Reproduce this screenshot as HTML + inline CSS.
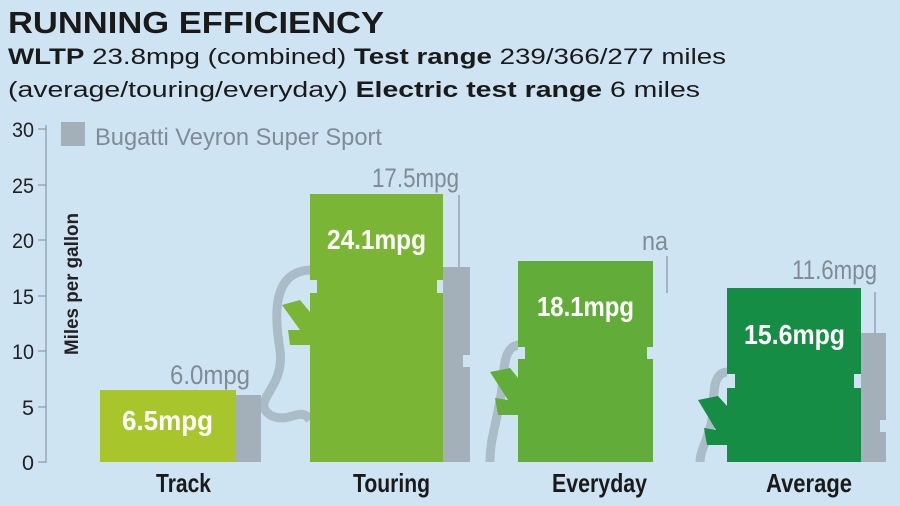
<!DOCTYPE html>
<html><head><meta charset="utf-8"><style>
body{margin:0;background:#cfe4f2;}
.w{width:900px;height:506px;position:relative;overflow:hidden;background:#cfe4f2;font-family:"Liberation Sans",sans-serif;}
</style></head><body><div class="w">
<svg width="900" height="506" xmlns="http://www.w3.org/2000/svg" font-family="Liberation Sans, sans-serif">
<text x="8" y="33" font-size="31" font-weight="bold" fill="#1a1a1a" textLength="376" lengthAdjust="spacingAndGlyphs">RUNNING EFFICIENCY</text>
<text x="8" y="64" font-size="22" fill="#1a1a1a" textLength="718" lengthAdjust="spacingAndGlyphs"><tspan font-weight="bold">WLTP</tspan> 23.8mpg (combined) <tspan font-weight="bold">Test range</tspan> 239/366/277 miles</text>
<text x="8" y="97" font-size="22" fill="#1a1a1a" textLength="692" lengthAdjust="spacingAndGlyphs">(average/touring/everyday) <tspan font-weight="bold">Electric test range</tspan> 6 miles</text>
<!-- axis -->
<line x1="46" y1="125" x2="46" y2="463" stroke="#8a9aa6" stroke-width="1.2"/>
<g stroke="#8a9aa6" stroke-width="1.2">
<line x1="38" y1="462" x2="46" y2="462"/><line x1="38" y1="407" x2="46" y2="407"/><line x1="38" y1="351" x2="46" y2="351"/><line x1="38" y1="296" x2="46" y2="296"/><line x1="38" y1="240" x2="46" y2="240"/><line x1="38" y1="185" x2="46" y2="185"/><line x1="38" y1="129" x2="46" y2="129"/>
</g>
<g font-size="21" fill="#222" text-anchor="end">
<text x="34" y="470" textLength="12" lengthAdjust="spacingAndGlyphs">0</text>
<text x="34" y="415" textLength="12" lengthAdjust="spacingAndGlyphs">5</text>
<text x="34" y="359" textLength="22" lengthAdjust="spacingAndGlyphs">10</text>
<text x="34" y="304" textLength="22" lengthAdjust="spacingAndGlyphs">15</text>
<text x="34" y="248" textLength="22" lengthAdjust="spacingAndGlyphs">20</text>
<text x="34" y="193" textLength="22" lengthAdjust="spacingAndGlyphs">25</text>
<text x="34" y="137" textLength="22" lengthAdjust="spacingAndGlyphs">30</text>
</g>
<text transform="translate(78,355) rotate(-90)" font-size="19" font-weight="bold" fill="#222" textLength="142" lengthAdjust="spacingAndGlyphs">Miles per gallon</text>
<!-- legend -->
<rect x="61" y="122" width="24" height="24" fill="#a3b0ba"/>
<text x="95" y="145" font-size="24" fill="#7f8c96" textLength="287" lengthAdjust="spacingAndGlyphs">Bugatti Veyron Super Sport</text>
<!-- pump hoses -->
<g fill="none" stroke="#a9bcc8" stroke-width="9">
<path d="M312 270 C270 270 275 320 280 350 C285 390 250 400 270 415 C290 425 300 405 310 420"/>
<path d="M520 345 C500 345 505 380 500 400 C495 430 490 440 490 462"/>
<path d="M728 372 C710 372 715 400 712 420 C708 440 700 450 700 462"/>
</g>
<g fill="#7ab535"><path d="M282 305 L300 300 L310 312 L310 345 L290 345 L288 330 L300 330 Z"/></g>
<g fill="#62ad3a"><path d="M490 372 L510 368 L518 378 L518 415 L498 415 L495 398 L508 400 Z"/></g>
<g fill="#168d44"><path d="M698 400 L718 396 L727 406 L727 445 L707 445 L704 428 L716 430 Z"/></g>
<!-- bars -->
<rect x="100" y="390" width="136" height="72" fill="#a8c62c"/>
<rect x="236" y="395" width="25" height="67" fill="#a3b0ba"/>
<rect x="443" y="267" width="27" height="195" fill="#a3b0ba"/>
<rect x="861" y="333" width="25" height="129" fill="#a3b0ba"/>
<rect x="310" y="194" width="133" height="268" fill="#7ab535"/>
<rect x="518" y="261" width="135" height="201" fill="#62ad3a"/>
<rect x="727" y="288" width="134" height="174" fill="#168d44"/>
<!-- notches -->
<g fill="#cfe4f2">
<rect x="310" y="280" width="7" height="13"/><rect x="437" y="280" width="6" height="13"/>
<rect x="518" y="347" width="7" height="12"/><rect x="647" y="347" width="6" height="12"/>
<rect x="727" y="374" width="8" height="14"/><rect x="854" y="374" width="7" height="14"/>
<rect x="463" y="355" width="8" height="12"/><rect x="880" y="420" width="7" height="12"/>
</g>
<!-- leader lines -->
<g stroke="#8a9aa6" stroke-width="1.3">
<line x1="459" y1="195" x2="459" y2="267"/><line x1="667" y1="256" x2="667" y2="293"/><line x1="875" y1="292" x2="875" y2="333"/>
</g>
<!-- value labels -->
<g font-size="27" fill="#7f8c96">
<text x="170" y="384" textLength="80" lengthAdjust="spacingAndGlyphs">6.0mpg</text>
<text x="372" y="187" textLength="87" lengthAdjust="spacingAndGlyphs">17.5mpg</text>
<text x="642" y="250" textLength="26" lengthAdjust="spacingAndGlyphs">na</text>
<text x="792" y="279" textLength="85" lengthAdjust="spacingAndGlyphs">11.6mpg</text>
</g>
<g font-size="28" font-weight="bold" fill="#fff">
<text x="122" y="430" textLength="91" lengthAdjust="spacingAndGlyphs">6.5mpg</text>
<text x="327" y="249" textLength="99" lengthAdjust="spacingAndGlyphs">24.1mpg</text>
<text x="537" y="316" textLength="97" lengthAdjust="spacingAndGlyphs">18.1mpg</text>
<text x="744" y="344" textLength="101" lengthAdjust="spacingAndGlyphs">15.6mpg</text>
</g>
<g font-size="26" font-weight="bold" fill="#1a1a1a">
<text x="156" y="492" textLength="55" lengthAdjust="spacingAndGlyphs">Track</text>
<text x="353" y="492" textLength="77" lengthAdjust="spacingAndGlyphs">Touring</text>
<text x="552" y="492" textLength="95" lengthAdjust="spacingAndGlyphs">Everyday</text>
<text x="766" y="492" textLength="86" lengthAdjust="spacingAndGlyphs">Average</text>
</g>
</svg>
</div></body></html>
